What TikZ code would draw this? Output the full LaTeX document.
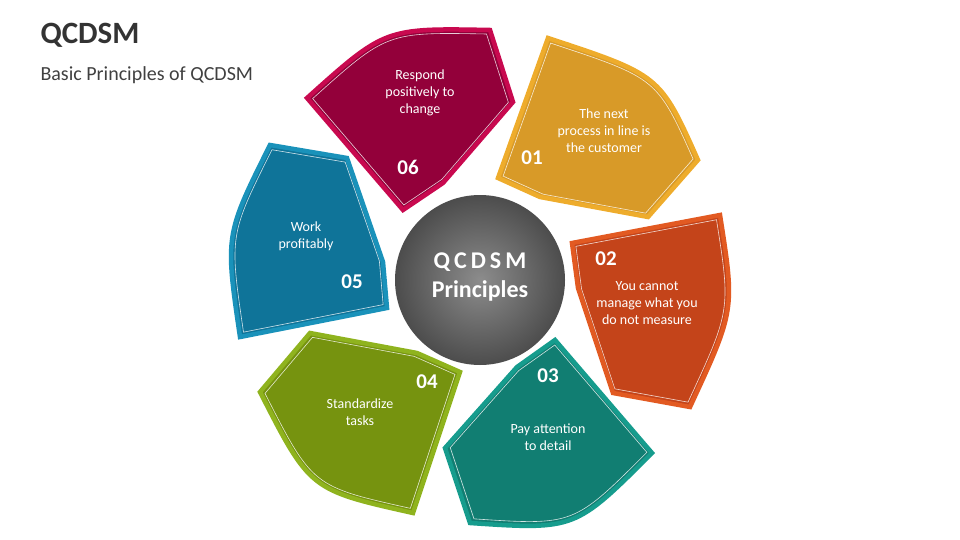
\documentclass[tikz,border=0pt]{standalone}
\usepackage{fontspec}
\setmainfont{Carlito}
\begin{document}
\begin{tikzpicture}[x=1pt,y=-1pt,
  lbl/.style={text=white,align=center,font=\fontsize{14}{17}\selectfont},
  num/.style={text=white,font=\fontsize{21}{24}\selectfont\bfseries}]
\useasboundingbox (0,0) rectangle (960,540);
\definecolor{c6}{HTML}{93003A}\definecolor{b6}{HTML}{C8094F}
\definecolor{c1}{HTML}{D89A28}\definecolor{b1}{HTML}{EEAC2C}
\definecolor{c2}{HTML}{C4441A}\definecolor{b2}{HTML}{E25A22}
\definecolor{c3}{HTML}{117E72}\definecolor{b3}{HTML}{169C8D}
\definecolor{c4}{HTML}{76930F}\definecolor{b4}{HTML}{8FB31E}
\definecolor{c5}{HTML}{0F7499}\definecolor{b5}{HTML}{1A92BA}
\newcommand{\mypetal}[5]{%
  \fill[#1,draw=#2,line width=4.5pt,line join=miter] #3;
  \begin{scope}[shift={(#4,#5)},scale=0.95,shift={(-#4,-#5)}]
    \draw[white,line width=0.6pt,opacity=0.8] #3;
  \end{scope}}
% 06
\mypetal{c6}{b6}{(307,98) .. controls (385,28) .. (490,30) -- (513,102) -- (443,183) -- (403,210) -- cycle}{420}{110}
% 01
\mypetal{c1}{b1}{(548,38) .. controls (660,75) .. (698,160) -- (648,217) -- (540,197) -- (498,178) -- cycle}{600}{140}
% 02
\mypetal{c2}{b2}{(572,243) -- (720,215) .. controls (735,310) .. (690,407) -- (613,393) -- (578,288) -- cycle}{650}{310}
% 03
\mypetal{c3}{b3}{(555,340) -- (652,453) .. controls (575,530) .. (470,523) -- (445,448) -- (517,367) -- cycle}{550}{440}
% 04
\mypetal{c4}{b4}{(310,333) -- (417,353) -- (460,372) -- (413,513) .. controls (310,490) .. (260,392) -- cycle}{360}{420}
% 05
\mypetal{c5}{b5}{(270,145) -- (347,158) -- (383,262) -- (387,308) -- (240,337) .. controls (225,235) .. (270,145) -- cycle}{310}{240}
% centre
\shade[inner color=black!45,outer color=black!70] (480,280) circle (85);
\node[white,font=\fontsize{24}{28}\selectfont\bfseries] (q) at (480,262) {Q\,C\,D\,S\,M};
\node[white,font=\fontsize{24}{28}\selectfont\bfseries] (p) at (480,291) {Principles};
% texts
\node[lbl] (t6) at (420,93) {Respond\\positively to\\change};
\node[num] (n6) at (408,167) {06};
\node[lbl] (t1) at (604,131) {The next\\process in line is\\the customer};
\node[num] (n1) at (532,158) {01};
\node[num] (n2) at (606,259) {02};
\node[lbl] (t2) at (647,303) {You cannot\\manage what you\\do not measure};
\node[num] (n3) at (548,376) {03};
\node[lbl] (t3) at (548,437) {Pay attention\\to detail};
\node[num] (n4) at (427,382) {04};
\node[lbl] (t4) at (360,412) {Standardize\\tasks};
\node[lbl] (t5) at (306,236) {Work\\profitably};
\node[num] (n5) at (352,282) {05};
% title
\node[anchor=west,text=black!80,font=\fontsize{31}{36}\selectfont\bfseries] (title) at (37,35) {QCDSM};
\node[anchor=west,text=black!75,font=\fontsize{20}{24}\selectfont] (sub) at (37,75) {Basic Principles of QCDSM};
\end{tikzpicture}
\end{document}
